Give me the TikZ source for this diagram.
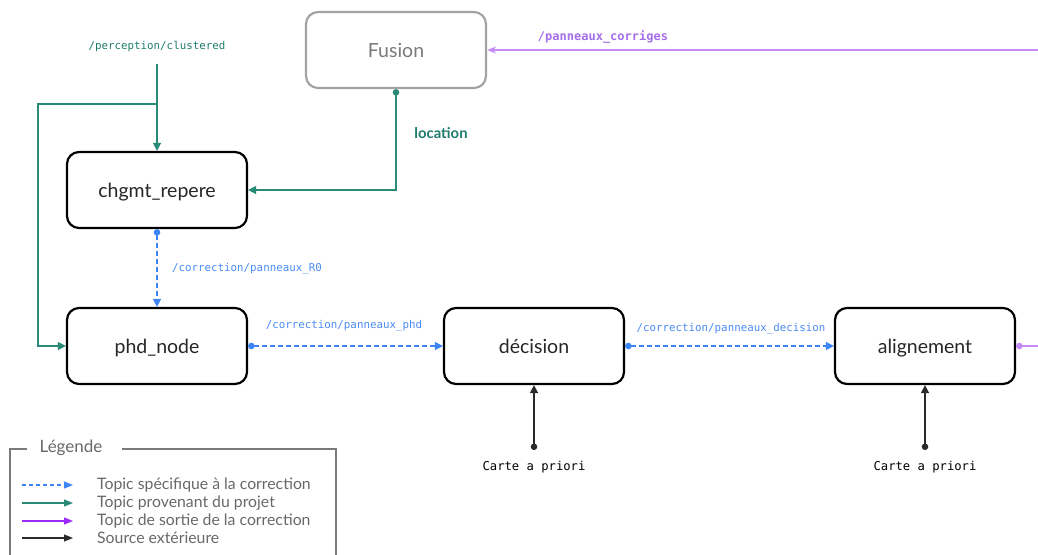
\documentclass[tikz,border=0pt]{standalone}
\usepackage{fontspec}
\setmainfont{Lato}
\newfontfamily\monofont{DejaVu Sans Mono}
\usetikzlibrary{arrows.meta}
\definecolor{projgreen}{HTML}{2A8A78}
\definecolor{projtext}{HTML}{1E7B6B}
\definecolor{corrblue}{HTML}{3D85F5}
\definecolor{corrtext}{HTML}{4A8BF5}
\definecolor{outpurple}{HTML}{C38BF5}
\definecolor{outtext}{HTML}{A66DEB}
\definecolor{outdot}{HTML}{A966EE}
\definecolor{legpurple}{HTML}{9D2BFF}
\definecolor{extblack}{HTML}{2A2A2A}
\definecolor{framegray}{HTML}{A3A3A3}
\definecolor{leggray}{HTML}{7A7A7A}
\tikzset{
  box/.style={draw=black, line width=2.2pt, rounded corners=12pt,
    minimum width=180pt, minimum height=76pt, font=\fontsize{19.5}{21}\selectfont,
    text=black!85, text height=17pt, text depth=3pt},
  fusionbox/.style={box, draw=framegray, text=leggray},
  proj/.style={draw=projgreen, line width=1.4pt},
  corr/.style={draw=corrblue, line width=1.4pt, dash pattern=on 5pt off 3pt},
  outp/.style={draw=outpurple, line width=1.4pt},
  ext/.style={draw=extblack, line width=1.4pt},
  tipT/.style={-{Triangle[length=8pt,width=8pt]}},
  dotT/.style={{Circle[length=6.5pt]}-{Triangle[length=8pt,width=8pt]}},
  topic/.style={font=\monofont\fontsize{10.8}{12}\selectfont},
  legtext/.style={anchor=west, font=\fontsize{15.8}{16}\selectfont, text=leggray!85!black, inner sep=0pt},
}
\begin{document}
\begin{tikzpicture}[x=1pt,y=-1pt]
\useasboundingbox (0,0) rectangle (1038,554);
\clip (0,0) rectangle (1038,554);

% processing nodes
\node[fusionbox] (fus) at (396,50) {Fusion};
\node[box] (chg) at (157,190) {chgmt\_repere};
\node[box] (phd) at (157,346) {phd\_node};
\node[box] (dec) at (534,346) {décision};
\node[box] (ali) at (925,346) {alignement};

% perception input, split towards both first nodes
\node[topic, text=projtext] (clus) at (157,46) {/perception/clustered};
\coordinate (clusin) at (157,64);
\coordinate (split) at (157,104);
\draw[proj, tipT] (clusin) -- (chg.north);
\draw[proj, tipT] (split) -- (38,104) |- (phd.west);

% location from the fusion
\draw[proj, dotT] (fus.south) |- (chg.east);
\node[font=\bfseries\fontsize{14.8}{16}\selectfont, text=projtext] (loc) at (441,133) {location};

% correction chain
\draw[corr, dotT] (chg.south) -- (phd.north);
\node[topic, text=corrtext] (lr0) at (247,269) {/correction/panneaux\_R0};
\draw[corr, dotT] (phd.east) -- (dec.west);
\node[topic, text=corrtext] (lphd) at (344,326) {/correction/panneaux\_phd};
\draw[corr, dotT] (dec.east) -- (ali.west);
\node[topic, text=corrtext] (ldec) at (731,329) {/correction/panneaux\_decision};

% corrected output and its return to the fusion
\coordinate (outend) at (1045,346);
\draw[outp, {Circle[length=6.5pt]}-, draw=outpurple, fill=outdot] (ali.east) -- (outend);
\coordinate (retin) at (1045,50);
\draw[outp, -{Stealth[length=9pt,width=7pt]}] (retin) -- (fus.east);
\node[font=\monofont\bfseries\fontsize{12}{13}\selectfont, text=outtext] (lcor) at (603,37) {/panneaux\_corriges};

% prior maps
\node[font=\monofont\fontsize{12.2}{13}\selectfont, text=black] (cart1) at (534,467) {Carte a priori};
\coordinate (cart1top) at (534,450);
\draw[ext, dotT] (cart1top) -- (dec.south);
\node[font=\monofont\fontsize{12.2}{13}\selectfont, text=black] (cart2) at (925,467) {Carte a priori};
\coordinate (cart2top) at (925,450);
\draw[ext, dotT] (cart2top) -- (ali.south);

% legend
\draw[draw=leggray, line width=1.1pt] (27,449) -- (10,449) -- (10,560);
\draw[draw=leggray, line width=1.1pt] (122,449) -- (336,449) -- (336,560);
\node[font=\fontsize{17}{18}\selectfont, text=leggray!85!black] (legt) at (71,448) {Légende};
\coordinate (l1a) at (22,485); \coordinate (l1b) at (73,485);
\coordinate (l2a) at (22,503); \coordinate (l2b) at (73,503);
\coordinate (l3a) at (22,521); \coordinate (l3b) at (73,521);
\coordinate (l4a) at (22,538); \coordinate (l4b) at (73,538);
\draw[corr, line width=1.1pt, dash pattern=on 4pt off 3pt, -{Triangle[length=9pt,width=7pt]}] (l1a) -- (l1b);
\draw[proj, line width=1.1pt, -{Triangle[length=9pt,width=7pt]}] (l2a) -- (l2b);
\draw[draw=legpurple, line width=1.1pt, -{Triangle[length=9pt,width=7pt]}] (l3a) -- (l3b);
\draw[ext, line width=1.1pt, -{Triangle[length=9pt,width=7pt]}] (l4a) -- (l4b);
\node[legtext] (t1) at (97,485) {Topic spécifique à la correction};
\node[legtext] (t2) at (97,503) {Topic provenant du projet};
\node[legtext] (t3) at (97,521) {Topic de sortie de la correction};
\node[legtext] (t4) at (97,538) {Source extérieure};
\end{tikzpicture}
\end{document}
